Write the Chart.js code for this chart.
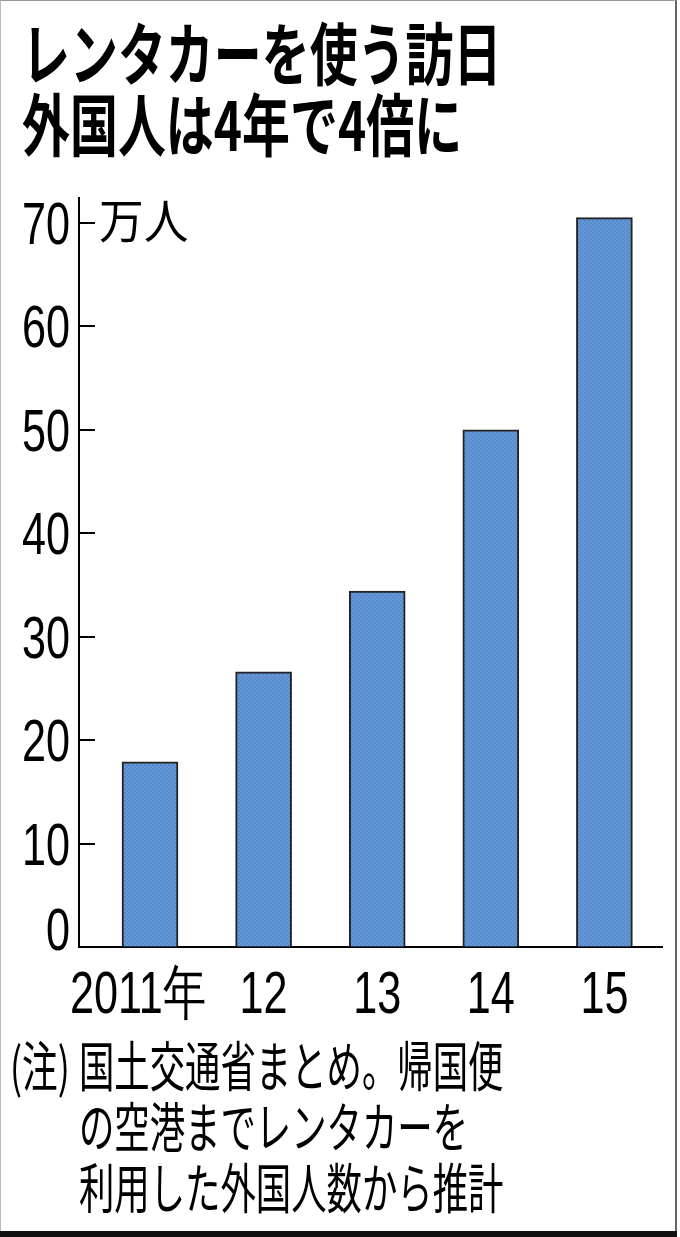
<!DOCTYPE html>
<html lang="ja">
<head>
<meta charset="utf-8">
<script src="https://cdn.jsdelivr.net/npm/chart.js@4/dist/chart.umd.min.js"></script>
<style>
  html, body { margin: 0; padding: 0; background: #fff; }
  body { width: 680px; height: 1237px; position: relative; overflow: hidden; }
  #chart { position: absolute; left: 0; top: 0; }
  .jp { font-family: "Noto Sans CJK JP", "Noto Sans CJK SC", sans-serif; color: #000; position: absolute; white-space: nowrap; transform-origin: 0 0; }
  #title { left: 22px; top: 15px; font-size: 68px; font-weight: bold; line-height: 71px; transform: scaleX(0.705); }
  #noteMark { left: 10px; top: 1033px; font-size: 54px; line-height: 61px; transform: scaleX(0.66); }
  #note { left: 79px; top: 1033px; font-size: 54px; line-height: 61px; transform: scaleX(0.655); }
  /* frame */
  #frame { position: absolute; left: 0; top: 0; width: 674px; height: 1230px; border-top: 1px solid #999; border-left: 1px solid #bbb; border-right: 2px solid #666; }
  #foot { position: absolute; left: 0; top: 1231px; width: 677px; height: 6px; background: #111; }
</style>
</head>
<body>
<div id="frame"></div>
<div id="foot"></div>
<canvas id="chart" width="680" height="1237"></canvas>
<div id="title" class="jp">レンタカーを使う訪日<br>外国人は4年で4倍に</div>
<div id="noteMark" class="jp">(注)</div>
<div id="note" class="jp">国土交通省まとめ。帰国便<br>の空港までレンタカーを<br>利用した外国人数から推計</div>
<script>
// data (万人)
const years = ['2011年', '12', '13', '14', '15'];
const visitors = [17.9, 26.6, 34.4, 50.0, 70.5];
const yTicks = [0, 10, 20, 30, 40, 50, 60, 70];
const unitLabel = '万人';

// condensed look for the numbers: Arial-metric font squeezed horizontally
const NUM_FONT = "60px 'Liberation Sans', Arial, sans-serif";
const NUM_SX = 0.72;
const CAP_HALF = 21.5; // half the digit height at 60px

function drawNum(ctx, text, x, baseline, align) {
    ctx.save();
    ctx.translate(x, baseline);
    ctx.scale(NUM_SX, 1);
    ctx.font = NUM_FONT;
    ctx.fillStyle = '#000';
    ctx.textAlign = align;
    ctx.textBaseline = 'alphabetic';
    ctx.fillText(text, 0, 0);
    ctx.restore();
}

// fine hatch texture for the bars
function makeHatch() {
    const c = document.createElement('canvas');
    c.width = 4; c.height = 4;
    const g = c.getContext('2d');
    g.fillStyle = '#5d92d4';
    g.fillRect(0, 0, 4, 4);
    g.fillStyle = '#5284c6';
    for (let i = 0; i < 4; i++) g.fillRect(i, i, 1, 1);
    g.fillStyle = '#6a9cdb';
    for (let i = 0; i < 4; i++) g.fillRect(i, 3 - i, 1, 1);
    return g.createPattern(c, 'repeat');
}

// inward y ticks, tick labels and the unit label
const axisExtras = {
    id: 'axisExtras',
    afterDraw(chart) {
        const ctx = chart.ctx;
        const y = chart.scales.y;
        const x = chart.scales.x;
        const area = chart.chartArea;
        ctx.save();
        ctx.strokeStyle = '#000';
        ctx.lineWidth = 2;
        y.ticks.forEach(t => {
            const py = Math.round(y.getPixelForValue(t.value));
            ctx.beginPath();
            ctx.moveTo(area.left, py);
            ctx.lineTo(area.left + 16, py);
            ctx.stroke();
            const base = Math.min(py - 1 + CAP_HALF, area.bottom + 3);
            drawNum(ctx, String(t.value), area.left - 9, base, 'right');
        });
        x.ticks.forEach(t => {
            const label = years[t.value];
            if (label === undefined) return;
            const px = x.getPixelForValue(t.value) - (t.value === 0 ? 12 : 0);
            drawNum(ctx, label, px, area.bottom + 66, 'center');
        });
        const py = y.getPixelForValue(yTicks[yTicks.length - 1]);
        ctx.translate(area.left + 20, py);
        ctx.scale(0.95, 1);
        ctx.fillStyle = '#000';
        ctx.font = "47px 'Noto Sans CJK JP'";
        ctx.textBaseline = 'middle';
        ctx.fillText(unitLabel, 0, -3);
        ctx.restore();
    }
};

const ctx = document.getElementById('chart').getContext('2d');
new Chart(ctx, {
    type: 'bar',
    data: {
        datasets: [{
            data: visitors.map((v, i) => ({ x: i, y: v })),
            backgroundColor: makeHatch(),
            borderColor: '#222',
            borderWidth: 2,
            borderSkipped: 'bottom',
            barThickness: 56
        }]
    },
    options: {
        responsive: false,
        animation: false,
        devicePixelRatio: 1,
        layout: { padding: { left: 0, right: 18, top: 198, bottom: 200 } },
        plugins: {
            legend: { display: false },
            tooltip: { enabled: false }
        },
        scales: {
            x: {
                type: 'linear',
                offset: false,
                min: -0.625,
                max: 4.507,
                afterFit: s => { s.height = 90; },
                grid: { display: true, offset: false, drawOnChartArea: false, drawTicks: false },
                border: { display: true, color: '#000', width: 2 },
                ticks: { display: false, stepSize: 1, includeBounds: false, autoSkip: false }
            },
            y: {
                min: 0,
                max: 72.4,
                afterFit: s => { s.width = 79; },
                afterBuildTicks: s => { s.ticks = yTicks.map(v => ({ value: v })); },
                grid: { display: true, drawOnChartArea: false, drawTicks: false },
                border: { display: true, color: '#000', width: 2 },
                ticks: { display: false }
            }
        }
    },
    plugins: [axisExtras]
});
</script>
</body>
</html>
